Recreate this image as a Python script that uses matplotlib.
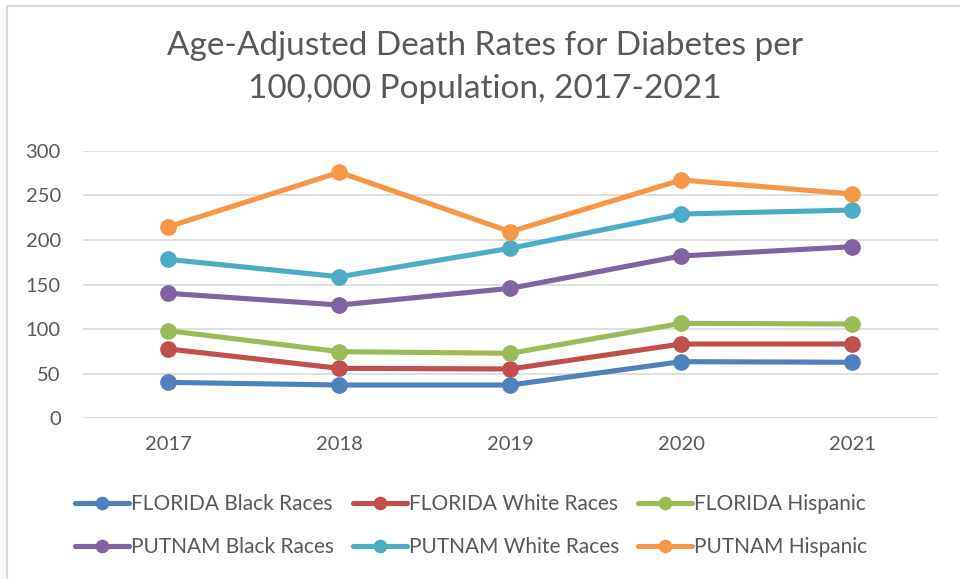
import matplotlib
matplotlib.use("Agg")
import matplotlib.pyplot as plt
from matplotlib.lines import Line2D

years = ["2017", "2018", "2019", "2020", "2021"]
series_names = ["FLORIDA Black Races", "FLORIDA White Races", "FLORIDA Hispanic",
                "PUTNAM Black Races", "PUTNAM White Races", "PUTNAM Hispanic"]
florida_black = [40.3, 37.3, 37.3, 63.5, 62.8]
florida_white = [77.7, 56.0, 55.3, 83.3, 83.3]
florida_hispanic = [98.2, 74.7, 72.9, 106.5, 105.7]
putnam_black = [140.1, 127.0, 145.7, 182.0, 192.4]
putnam_white = [178.2, 158.7, 190.6, 229.0, 233.5]
putnam_hispanic = [214.8, 275.8, 209.2, 267.2, 251.5]
yticks = [0, 50, 100, 150, 200, 250, 300]

colors = ["#4F81BD", "#C0504D", "#9BBB59", "#8064A2", "#4BACC6", "#F79646"]
all_series = [florida_black, florida_white, florida_hispanic,
              putnam_black, putnam_white, putnam_hispanic]

plt.rcParams['font.family'] = ['Lato', 'DejaVu Sans']
txt = "#595959"

fig = plt.figure(figsize=(9.6, 5.79), dpi=100)
ax = fig.add_axes([83/960, 1-418.3/579, (937.7-83)/960, (418.3-150.7)/579])

x = list(range(len(years)))
for name, vals, c in zip(series_names, all_series, colors):
    ax.plot(x, vals, color=c, lw=3.7, marker='o', ms=11, label=name,
            solid_capstyle='round')

ax.set_xlim(-0.5, 4.5)
ax.set_ylim(0, 300)
ax.set_yticks(yticks)
ax.set_yticklabels([str(v) for v in yticks], fontsize=14.5, color=txt)
ax.set_xticks(x)
ax.set_xticklabels(years, fontsize=14.5, color=txt)
ax.tick_params(axis='both', length=0)
ax.tick_params(axis='y', pad=16)
ax.tick_params(axis='x', pad=13)
ax.grid(axis='y', color="#D9D9D9", lw=1.2)
ax.set_axisbelow(True)
for s in ax.spines.values():
    s.set_visible(False)

fig.text(0.505, 1-46/579, "Age-Adjusted Death Rates for Diabetes per",
         ha='center', va='center', fontsize=24, color=txt)
fig.text(0.505, 1-89/579, "100,000 Population, 2017-2021",
         ha='center', va='center', fontsize=24, color=txt)

# border lines (left and top)
fig.add_artist(Line2D([7/960, 7/960], [0, 1-6/579], color="#D9D9D9", lw=1.5))
fig.add_artist(Line2D([7/960, 1], [1-6/579, 1-6/579], color="#D9D9D9", lw=1.5))

handles, labels = ax.get_legend_handles_labels()
order = [0, 3, 1, 4, 2, 5]
leg = fig.legend([handles[i] for i in order], [labels[i] for i in order],
                 ncol=3, loc='center', bbox_to_anchor=(471/960, 1-525.5/579),
                 frameon=False, fontsize=15, labelcolor=txt, handlelength=2.6,
                 handletextpad=0.1, columnspacing=0.9, labelspacing=1.1,
                 markerscale=0.8)
plt.savefig("out.png", dpi=100)
